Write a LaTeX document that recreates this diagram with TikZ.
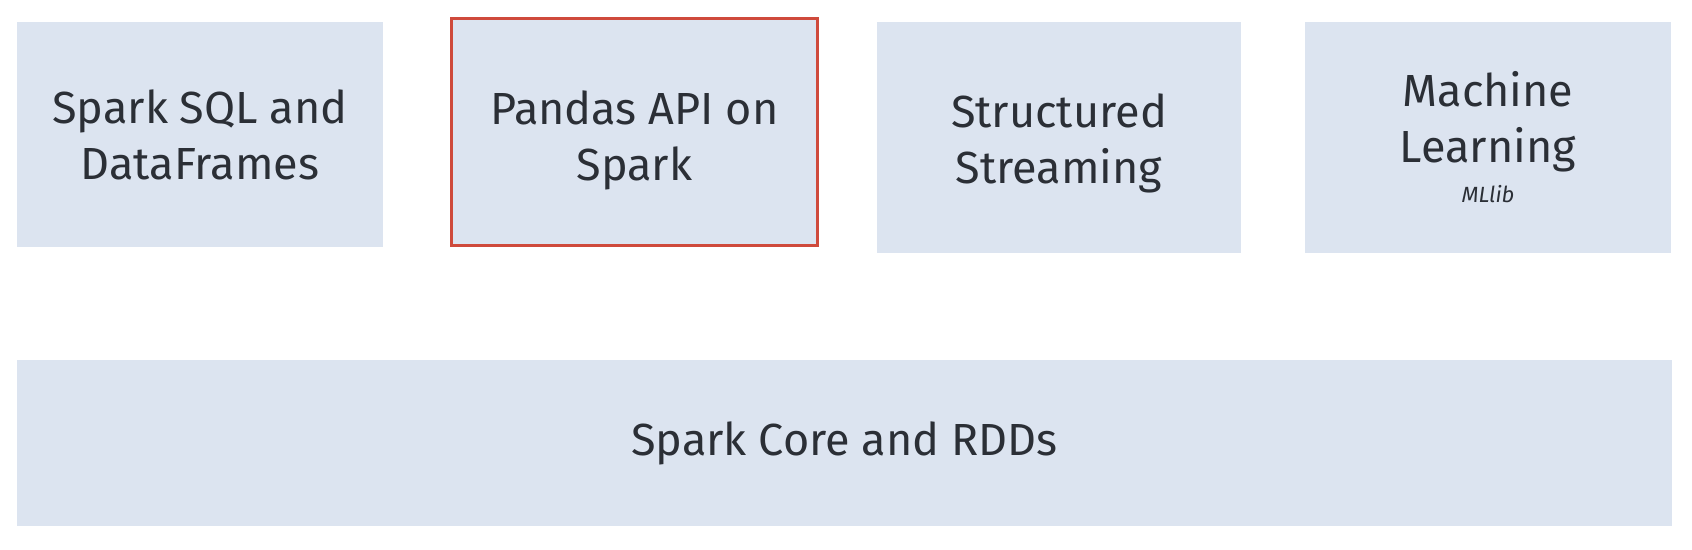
\documentclass[tikz,border=0pt]{standalone}
\usepackage{fontspec}
\setmainfont{Fira Sans}
\definecolor{layerfill}{HTML}{DCE4F0}
\definecolor{hired}{HTML}{CF4A3C}
\definecolor{ink}{HTML}{2B2F36}
\tikzstyle{layer} = [fill=layerfill, text=ink, align=center, inner sep=0pt, font=\fontsize{22.5}{28}\selectfont]
\tikzstyle{hilite} = [draw=hired, line width=1.5pt]

\begin{document}
\begin{tikzpicture}[x=0.5pt, y=-0.5pt]
\useasboundingbox (0,0) rectangle (1692,550);
% top row of libraries
\node[layer, minimum width=183pt, minimum height=112.5pt] (sql) at (200,134.5)
	{Spark SQL and\\DataFrames};
\node[layer, hilite, minimum width=183pt, minimum height=113.5pt] (pandas) at (634.5,132)
	{\rule{0pt}{25pt}Pandas API on\\Spark};
\node[layer, minimum width=182pt, minimum height=115.5pt] (stream) at (1059,137.5)
	{\rule{0pt}{23pt}Structured\\Streaming};
\node[layer, minimum width=183pt, minimum height=115.5pt] (ml) at (1488,137.5)
	{Machine\\Learning\\[-8pt]{\fontsize{11}{14}\selectfont\itshape MLlib}};
% core layer
\node[layer, minimum width=827.5pt, minimum height=82.5pt] (core) at (844.5,443)
	{Spark Core and RDDs};
\end{tikzpicture}
\end{document}
